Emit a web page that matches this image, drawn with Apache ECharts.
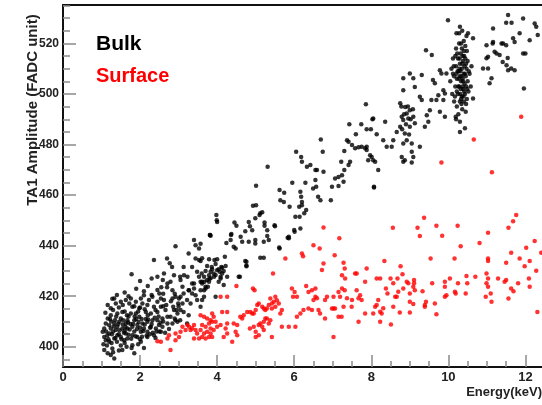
<!DOCTYPE html>
<html>
<head>
<meta charset="utf-8">
<script src="https://cdn.jsdelivr.net/npm/echarts@6/dist/echarts.min.js"></script>
<style>
html,body{margin:0;padding:0;background:#fff;}
#chart{width:542px;height:405px;}
</style>
</head>
<body>
<div id="chart"></div>
<script>
// ---- tick values ----
const xTickValues = [0, 2, 4, 6, 8, 10, 12];
const xMinorTickValues = [0.5,1,1.5,2.5,3,3.5,4.5,5,5.5,6.5,7,7.5,8.5,9,9.5,10.5,11,11.5,12.5];
const yTickValues = [400, 420, 440, 460, 480, 500, 520];
const yMinorTickValues = [395,405,410,415,425,430,435,445,450,455,465,470,475,485,490,495,505,510,515,525,530,535];

// ---- Bulk events [energy keV, amplitude] ----
const bulkPoints = [
[1.16,416.5],[1.24,415.2],[1.37,417.1],[1.5,417.8],[1.63,418.5],[1.76,419.1],[1.72,417.1],[1.8,415.8],[1.89,417.8],[2.02,419.1],
[2.1,420.4],[2.06,417.1],[1.98,415.2],[2.19,416.5],[2.23,418.5],[2.32,419.8],[2.36,415.8],[2.45,417.8],[2.54,419.1],[2.62,418.5],
[2.54,415.8],[2.66,414.5],[2.45,413.8],[2.28,413.2],[2.15,413.8],[1.89,413.2],[1.76,413.2],[1.54,413.8],[1.41,413.2],[1.24,412.5],
[1.16,411.2],[1.11,409.2],[1.07,407.2],[1.03,405.9],[1.07,403.9],[1.11,402.6],[1.07,398.7],[1.16,397.4],[1.24,396.7],[1.33,395.4],
[1.28,399.3],[1.2,402.0],[1.33,403.3],[1.41,404.6],[1.5,403.9],[1.59,402.6],[1.67,403.3],[1.8,404.6],[1.93,403.9],[2.02,405.9],
[2.1,407.2],[2.19,405.9],[2.28,407.9],[2.41,407.2],[2.49,408.6],[2.58,407.9],[2.71,409.2],[2.84,409.2],[2.97,409.9],[2.92,410.5],
[2.79,411.9],[2.97,413.2],[3.05,414.5],[2.88,414.5],[2.71,411.9],[2.58,411.2],[2.45,410.5],[2.32,410.5],[2.19,409.9],[2.06,409.2],
[1.93,408.6],[1.8,407.9],[1.67,407.2],[1.54,407.2],[1.41,407.9],[1.33,409.2],[1.24,407.2],[1.2,405.3],[1.37,406.6],[1.63,405.3],
[1.85,397.4],[2.02,402.0],[1.54,398.7],[1.8,400.6],[2.19,403.9],[2.36,404.6],[2.54,405.9],[1.5,411.2],[1.67,410.5],[1.85,410.5],
[1.98,411.9],[1.63,409.2],[1.46,409.9],[1.33,419.1],[1.78,428.7],
[1.2,408.5],[1.3,406],[1.35,410.5],[1.45,405],[1.55,408.8],[1.6,406.2],[1.7,404.8],[1.75,409],[1.85,406],[1.9,411],
[2.0,407.5],[2.05,404],[2.15,411],[2.25,405],[2.3,409],[2.4,403.5],[2.5,406],[2.6,410],[2.65,405.5],[2.75,407],
[1.15,404.5],[1.25,410],[1.4,402],[1.5,400.5],[1.65,400],[1.95,401],[2.1,399.5],[1.05,401],[1.1,413.5],[1.3,414.5],
[1.45,415.5],[1.6,414],[1.7,412],[1.95,414],[2.2,412.5],[2.4,414.5],[2.6,416],[2.8,418],[2.9,421],[3.0,416],
[1.4,420.5],[1.6,421.5],[1.9,423],[2.0,426],[2.2,424],[2.45,422.5],[2.6,421],[2.7,423.5],[2.3,427],[1.28,419],
[1.12,406],[1.18,403],[1.22,411],[1.27,405],[1.32,408],[1.36,403.5],[1.38,412],[1.43,409],[1.47,406.5],[1.52,403],
[1.56,410.5],[1.58,405.5],[1.62,407.8],[1.66,412.5],[1.69,409.6],[1.73,406.8],[1.77,403.2],[1.82,409],[1.86,412],[1.88,404.2],
[1.92,407],[1.96,409.8],[2.0,403],[2.04,411],[2.08,406.2],[2.12,408.8],[2.17,404.5],[2.21,410.8],[2.26,407.5],[2.33,405.5],
[2.38,411.5],[2.43,406],[2.48,412],[2.53,409.5],[1.14,400.5],[1.26,401.5],[1.45,398.5],[1.6,401.5],[1.78,399.5],[1.3,397.8],
[2.0,415.5],[2.12,414.8],[1.85,416],[1.55,416.5],[1.7,420],[2.3,420.5],[2.55,423.5],[2.1,422],
[2.45,427.7],[2.62,429.0],[2.71,425.0],[2.79,425.7],[2.84,422.4],[2.92,419.8],[3.01,419.1],[3.05,426.4],[3.1,423.7],[3.14,428.3],
[3.23,427.7],[3.27,422.4],[3.35,425.0],[3.4,423.1],[3.44,420.4],[3.53,427.7],[3.57,425.7],[3.61,425.0],[3.66,422.4],[3.7,423.1],
[3.74,426.4],[3.79,428.3],[3.83,429.7],[3.92,427.7],[4.0,430.3],[4.04,425.7],[4.09,427.0],[4.13,429.0],[4.17,424.4],[4.26,427.7],
[3.48,418.5],[3.57,415.8],[3.31,417.1],[3.1,417.1],[3.05,419.8],[2.88,428.3],
[2.7,434.9],[2.77,433.0],[2.83,431.6],[2.92,439.8],[3.04,427.7],[3.13,431.6],[2.59,426.4],[2.5,421.1],[2.36,434.3],[3.4,442.2],
[3.44,440.2],[3.53,438.9],[3.26,436.9],[3.44,434.9],[3.53,434.3],[3.35,431.6],[3.48,429.7],[3.6,429.0],[3.67,425.7],[3.76,423.7],
[3.4,425.0],[3.26,422.4],[3.13,421.1],[3.22,418.5],[3.35,421.1],[2.99,417.1],[2.84,419.1],[2.86,415.8],[2.95,414.5],[2.68,416.5],
[3.13,413.8],[3.26,412.5],[3.04,410.5],[3.22,409.2],[2.9,411.2],
[3.82,444.2],[3.98,452.1],[3.99,450.1],[3.93,434.3],[4.11,431.6],[4.2,435.6],[4.07,429.7],[3.86,431.6],[3.8,427.0],[4.56,427.7],
[4.76,431.9],[4.76,433.6],[5.5,447.7],[5.62,438.9],[6.0,446.2],[5.01,456],
[5.12,452.8],[5.34,442.2],[3.81,444.2],[4.37,444.6],[4.35,442.2],[4.24,441.1],[4.43,439.6],[4.48,438.9],[4.65,441.5],[4.82,441.5],
[4.99,442.2],[4.99,440.9],[5.21,441.5],[5.61,439.3],[5.86,442.9],[5.12,435.2],[5.21,435.2],[4.73,433.9],[4.76,432.2],[4.59,427.7],
[3.96,419.8],[3.57,440.8],[3.61,435.0],[3.57,433.9],[3.79,434.6],[4.0,434.6],[3.96,432.7],[3.74,432.0],[3.87,430.7],[3.7,430.0],
[3.91,429.0],[4.04,430.7],[4.13,431.3],[4.22,432.0],[4.17,430.0],[3.66,427.7],[3.83,427.1],[3.79,425.7],[3.61,425.7],[3.7,423.7],
[3.57,422.4],[3.66,419.8],[3.61,418.5],[4.09,427.7],[3.96,428.4],
[7.86,495.9],[8.03,490.0],[7.43,488.0],[7.74,488.0],[7.6,484.1],[7.88,486.0],[7.99,486.0],[8.14,484.1],[6.69,482.0],[7.37,481.7],
[7.41,481.1],[7.5,479.8],[7.58,478.5],[7.67,478.9],[7.75,479.1],[7.84,478.5],[7.88,477.8],[7.97,475.8],[8.01,475.1],[7.92,473.8],
[8.1,473.2],[7.3,477.4],[7.22,473.2],[7.45,473.2],[7.41,471.9],[7.3,469.9],[7.24,467.9],[7.15,467.2],[7.28,465.3],[7.06,466.6],
[6.98,463.3],[7.15,463.6],[6.95,458.0],[8.07,463.3],[6.74,477.1],[6.76,469.2],[6.05,477.1],[6.18,475.1],[6.2,473.2],[6.33,471.2],
[6.42,471.9],[6.55,469.9],[6.59,469.9],[6.55,466.0],[6.29,464.9],[5.95,464.9],[6.49,462.6],[6.57,463.3],[6.62,459.3],[6.68,458.0],
[6.16,461.3],[6.18,459.3],[6.2,457.3],[5.62,462.0],[5.74,460.9],[5.64,458.0],[5.73,457.3],[5.88,455.4],[6.13,455.4],[6.2,456.0],
[6.31,454.1],[6.26,452.8],[6.14,451.4],[6.03,451.4],[6.16,446.8],[6.01,445.5],[5.86,443.5],[5.31,471.2],[5.01,463.7],[4.93,455.8],
[4.45,449.2],[4.5,447.9],[4.99,450.8],[5.1,452.1],[5.17,453.2],[5.23,449.2],[5.23,447.9],[4.82,449.4],[4.85,447.7],[4.91,446.1],
[4.73,445.7],[4.61,443.5],[4.36,444.2],[3.83,443.9],[5.3,446.1],[5.3,443.8],[5.49,448.1],[5.83,443.1],[4.0,449.4],
[9.99,529.2],[10.3,526.6],[10.21,524.0],[10.51,524.0],[10.47,522.9],[10.64,522.0],[9.42,517.3],[9.57,515.4],[11.12,506.2],[11.07,504.2],
[10.9,510.1],[11.03,510.1],[11.41,512.7],[11.51,511.4],[11.55,509.4],[11.63,510.1],[11.72,509.4],[11.96,502.2],[8.05,490.3],[8.36,489.0],
[8.83,506.2],[9.0,508.1],[9.09,506.2],[8.83,501.5],[9.13,502.8],[9.31,507.5],[8.75,496.3],[8.88,494.9],[8.92,492.3],[9.0,493.6],
[8.79,491.0],[8.96,490.3],[9.09,491.0],[8.83,489.7],[8.75,487.0],[9.0,487.0],[9.13,488.4],[8.87,484.4],[8.92,481.7],[8.83,480.4],
[9.05,480.4],[8.66,485.0],[8.57,481.7],[8.53,479.1],[8.4,479.1],[8.31,481.7],[8.79,475.1],[8.87,473.8],[9.05,477.1],[9.09,475.1],
[8.83,473.2],[9.05,472.9],[9.26,479.1],[7.88,479.1],[8.05,473.8],[8.18,469.9],[9.44,491.6],[9.48,489.0],[9.39,487.0],[9.52,493.6],
[9.56,497.6],[9.69,497.6],[9.87,497.6],[9.78,493.0],[9.91,491.0],[9.31,497.6],[9.26,498.9],[9.78,509.4],[9.82,508.1],[9.6,505.5],
[9.65,504.2],[9.95,508.1],[9.87,501.5],[9.91,500.2],[9.74,499.5],[10.19,491.0],[10.3,485.0],[10.43,486.4],[10.64,498.2],
[8.85,492],[8.9,488],[8.95,495],[9.02,490],[8.8,486],[9.08,494],[8.78,495],[8.98,484],
[11.16,520.6],[10.99,514.1],[11.03,514.7],[11.2,516.7],[11.25,516.0],[11.42,520.0],[11.5,519.3],[11.68,522.0],[11.72,520.6],[11.85,524.0],
[11.94,516.0],[12.0,516.0],[11.55,531.2],[11.5,528.2],[11.64,528.2],[11.94,529.9],[12.24,527.9],[12.28,526.6],[12.11,521.3],[11.16,525.9],
[12.32,523.3],[11.15,520.0],[11.38,520.0],[10.99,519.3],[11.33,515.4],[11.54,514.2],
[10.05,505],[10.08,510],[10.1,500],[10.12,514],[10.15,507],[10.15,497],[10.18,503],[10.2,511],[10.2,518],[10.22,495],
[10.22,506],[10.25,500],[10.25,514],[10.27,509],[10.28,503],[10.28,520],[10.3,497],[10.3,507],[10.3,512],[10.32,502],
[10.32,516],[10.33,505],[10.35,499],[10.35,510],[10.35,518],[10.36,494],[10.37,506],[10.38,513],[10.38,502],[10.4,508],
[10.4,497],[10.4,517],[10.42,504],[10.42,511],[10.43,500],[10.44,514],[10.45,507],[10.45,493],[10.46,503],[10.47,510],
[10.48,498],[10.5,505],[10.5,513],[10.52,501],[10.55,508],[10.58,503],[10.6,511],[10.18,515],[10.26,492],[10.33,520],
[10.4,521],[10.28,524],[10.36,525],[10.24,509],[10.34,496],[10.44,519],[10.12,508],[10.2,490],[10.3,489],[10.48,517],
[10.38,505],[10.31,509],[10.27,506],[10.41,501],[10.36,512],[10.22,501],[10.46,496],[8.07,463.0],
[10.14,511],[10.17,499],[10.23,516],[10.26,503],[10.29,514],[10.31,500],[10.34,507],[10.37,515],[10.39,499],[10.43,508],
[10.46,512],[10.49,502],[10.53,509],[10.21,508],[10.33,498],[10.41,515],[10.29,510],[10.37,503]
];

// ---- Surface events [energy keV, amplitude] ----
const surfacePoints = [
[2.45,402.2],[2.54,402.0],[2.71,403.3],[2.75,404.6],[2.79,398.7],[2.92,402.6],[3.01,403.9],[2.92,405.3],[3.05,405.9],[3.1,407.9],
[3.18,406.6],[3.23,408.6],[3.27,407.9],[3.31,406.6],[3.35,407.3],[3.4,408.6],[3.44,406.6],[3.48,405.3],[3.4,403.3],[3.53,403.3],
[3.57,412.5],[3.66,411.9],[3.74,411.2],[3.83,410.5],[3.91,411.9],[3.87,409.9],[3.96,409.9],[3.79,409.2],[3.70,407.9],[3.61,408.6],
[3.83,407.2],[3.91,406.6],[3.74,405.9],[3.66,405.3],[3.83,405.3],[3.87,403.9],[3.79,403.9],[3.61,403.9],[3.70,403.3],[3.57,406.6],
[4.0,407.9],[4.09,408.6],[4.26,409.2],[4.22,407.2],[4.17,403.9],[4.39,402.0],[4.52,404.6],[4.52,408.6],[4.6,411.9],[4.65,411.2],
[4.69,412.5],[4.78,413.8],[4.86,413.8],[4.91,413.2],[4.95,413.2],[5.0,414.5],[5.04,416.5],[5.08,417.1],[5.17,415.8],[5.21,415.1],
[5.25,414.5],[5.29,415.1],[5.34,416.5],[5.42,417.1],[5.47,417.8],[5.38,419.1],[5.51,419.8],[5.55,418.4],[5.6,417.1],[5.64,413.2],
[5.68,414.5],[5.51,415.8],[5.42,415.1],[4.85,407.2],[4.95,407.9],[5.0,405.9],[5.08,408.6],[5.12,409.2],[5.17,407.9],[5.21,409.9],
[5.25,411.2],[5.29,411.2],[5.34,409.2],[5.38,410.5],[5.42,403.9],[5.68,407.9],[5.86,407.9],[6.03,407.9],[6.07,411.9],[6.16,413.2],
[6.24,414.5],[6.37,415.1],[6.46,414.5],[6.63,414.5],[6.67,413.2],[6.8,411.2],[6.98,415.1],[7.02,415.1],[7.06,415.1],[7.15,411.9],
[7.23,411.9],[7.49,415.8],[7.67,409.9],[7.84,413.2],[8.05,413.2],[8.1,415.8],[8.14,416.5],[7.02,403.9],[5.0,403.9],[5.08,404.6],
[5.21,406.6],[4.13,413.8],[4.26,413.8],[4.26,405.3],[4.43,409.2],[4.48,405.9],[3.87,413.2],[4.09,419.8],[4.26,419.8],
[6.76,447.2],[7.17,442.9],[6.2,436.9],[6.23,435.8],[6.5,440.2],[6.66,438.9],[5.77,434.9],[6.76,432.9],[7.05,436.2],[6.72,430.4],
[7.28,433.2],[7.31,431.0],[7.24,428.3],[7.32,427.0],[7.58,429.0],[7.62,429.0],[7.88,431.0],[7.84,425.7],[8.14,427.0],[5.45,429.0],
[4.5,424.0],[4.93,423.1],[4.97,422.4],[5.94,423.1],[6.01,421.7],[5.97,419.8],[6.07,419.8],[6.31,424.0],[6.37,421.7],[6.55,423.1],
[6.55,419.8],[6.59,419.2],[6.5,418.5],[6.46,422.4],[6.85,419.8],[6.8,418.5],[7.02,419.8],[7.15,421.7],[7.19,419.8],[7.24,423.1],
[7.31,422.4],[7.37,419.2],[7.5,418.5],[7.28,415.8],[7.62,422.4],[7.67,419.2],[7.75,418.5],[7.71,420.4],
[8.56,447.1],[9.37,451.0],[9.2,447.1],[9.26,443.8],[9.69,447.9],[9.84,443.9],[10.24,447.9],[10.32,439.8],[11.03,445.1],[10.81,441.1],
[11.76,452.1],[11.68,449.7],[11.56,447.1],[12.24,441.8],[12.02,439.2],[12.41,437.2],[9.54,434.9],[10.16,434.9],[11.03,434.9],[11.03,433.9],
[11.5,433.2],[11.63,437.2],[11.85,434.9],[12.11,433.9],[11.98,431.9],[12.28,430.1],[8.34,433.9],[8.76,431.9],[8.81,428.7],[8.23,427.0],
[8.5,427.0],[8.68,427.0],[8.57,425.1],[8.38,423.1],[8.42,421.1],[8.7,421.8],[8.83,423.1],[8.92,425.7],[8.96,425.1],[9.11,426.4],
[9.11,425.1],[9.09,423.7],[9.13,422.4],[9.0,421.1],[9.33,422.0],[8.62,419.8],[8.66,419.8],[8.57,415.8],[8.74,413.6],[9.0,413.6],
[9.09,416.9],[9.39,416.5],[9.42,417.8],[9.39,415.8],[9.65,417.1],[9.69,412.9],[9.58,425.1],[9.91,425.7],[9.91,423.7],[9.95,420.4],
[9.91,419.8],[10.04,427.0],[10.17,421.8],[10.19,421.1],[10.25,425.1],[10.47,428.0],[10.49,425.1],[10.45,421.1],[10.7,427.7],[10.99,429.0],
[11.03,427.0],[10.99,425.1],[11.03,423.7],[10.97,419.8],[11.1,421.1],[11.12,417.8],[11.29,427.0],[11.46,425.7],[11.5,426.4],[11.63,423.1],
[11.69,422.0],[11.56,419.1],[11.81,425.1],[12.09,427.0],[12.11,423.7],[12.31,413.8],[8.18,418.5],[8.23,413.9],[8.27,413.2],[8.31,415.2],
[8.23,409.9],[8.51,408.8],[9.0,417.8],
[9.82,472.9],[10.66,482.0],[11.13,469.0],[11.89,491.0]
];

const FONT = '"Liberation Sans", Arial, Helvetica, sans-serif';
const chart = echarts.init(document.getElementById('chart'), null, {renderer: 'canvas'});

const axisLineStyle = {color: '#111', width: 2};
const tickStyle = {color: '#8a8a8a', width: 1.5};

chart.setOption({
  animation: false,
  backgroundColor: '#fff',
  grid: {left: 63, right: 0, top: 5, bottom: 38},
  xAxis: [
    {
      type: 'value', position: 'bottom', min: 0, max: 12.43,
      axisLine: {show: true, onZero: false, lineStyle: axisLineStyle},
      axisTick: {show: true, inside: true, length: 12, customValues: xTickValues, lineStyle: tickStyle},
      axisLabel: {show: true, customValues: xTickValues, margin: 4, color: '#222', fontFamily: FONT, fontWeight: 'bold', fontSize: 13},
      splitLine: {show: false}
    },
    {
      type: 'value', position: 'bottom', min: 0, max: 12.43,
      axisLine: {show: false, onZero: false},
      axisTick: {show: true, inside: true, length: 6, customValues: xMinorTickValues, lineStyle: tickStyle},
      axisLabel: {show: false},
      splitLine: {show: false}
    },
    {
      type: 'value', position: 'top', min: 0, max: 12.43,
      axisLine: {show: true, onZero: false, lineStyle: axisLineStyle},
      axisTick: {show: false}, axisLabel: {show: false}, splitLine: {show: false}
    }
  ],
  yAxis: [
    {
      type: 'value', position: 'left', min: 392, max: 535.2,
      axisLine: {show: true, onZero: false, lineStyle: axisLineStyle},
      axisTick: {show: true, inside: true, length: 13, customValues: yTickValues, lineStyle: tickStyle},
      axisLabel: {show: true, customValues: yTickValues, margin: 4, color: '#222', fontFamily: FONT, fontWeight: 'bold', fontSize: 12},
      splitLine: {show: false}
    },
    {
      type: 'value', position: 'left', min: 392, max: 535.2,
      axisLine: {show: false, onZero: false},
      axisTick: {show: true, inside: true, length: 7, customValues: yMinorTickValues, lineStyle: tickStyle},
      axisLabel: {show: false},
      splitLine: {show: false}
    }
  ],
  series: [
    {
      name: 'Bulk', type: 'scatter', xAxisIndex: 0, yAxisIndex: 0,
      symbol: 'circle', symbolSize: 4.5,
      itemStyle: {color: '#000000'},
      data: bulkPoints
    },
    {
      name: 'Surface', type: 'scatter', xAxisIndex: 0, yAxisIndex: 0,
      symbol: 'circle', symbolSize: 4.5,
      itemStyle: {color: '#ff0000'},
      data: surfacePoints
    }
  ],
  graphic: [
    {type: 'text', left: 96, top: 34, style: {text: 'Bulk', fill: '#000', font: 'bold 21px ' + FONT}},
    {type: 'text', left: 96, top: 66, style: {text: 'Surface', fill: '#ff0000', font: 'bold 20px ' + FONT}},
    {type: 'text', x: 33, y: 110, rotation: Math.PI / 2,
      style: {text: 'TA1 Amplitude (FADC unit)', fill: '#222', font: 'bold 15px ' + FONT, align: 'center', verticalAlign: 'middle'}},
    {type: 'text', right: 0, top: 386, style: {text: 'Energy(keV)', fill: '#222', font: 'bold 13px ' + FONT}}
  ]
});
</script>
</body>
</html>
